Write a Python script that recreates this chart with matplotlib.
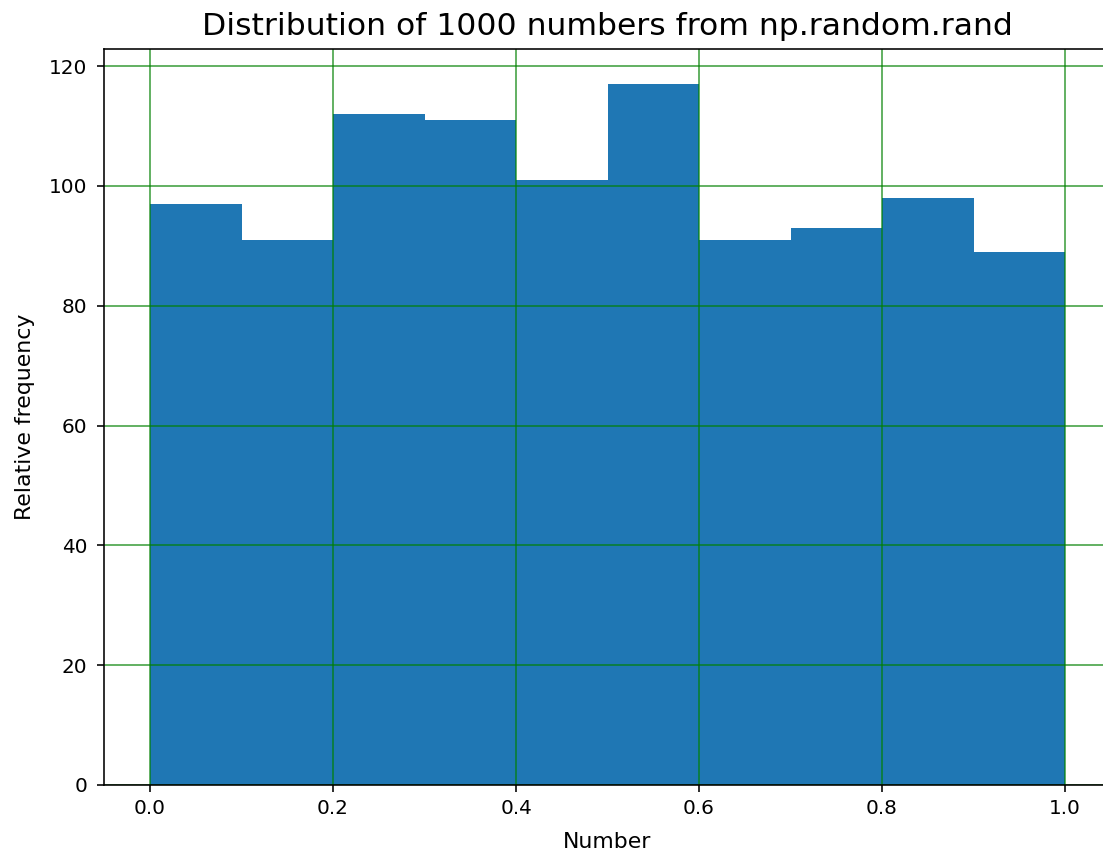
import matplotlib
matplotlib.use('Agg')
import matplotlib.pyplot as plt
import numpy as np

# bin edges and counts (10 bins on [0, 1])
bin_edges = [0.0, 0.1, 0.2, 0.3, 0.4, 0.5, 0.6, 0.7, 0.8, 0.9, 1.0]
counts = [97, 91, 112, 111, 101, 117, 91, 93, 98, 89]

W, H, DPI = 1103, 853, 144
fig = plt.figure(figsize=(W / DPI, H / DPI), dpi=DPI)
# axes deliberately runs past the right edge, as in the cropped original
ax = fig.add_axes([104.25 / W, 1 - 785 / H, (1110.75 - 104.25) / W, (785 - 49) / H])

centers = (np.array(bin_edges[:-1]) + np.array(bin_edges[1:])) / 2
ax.hist(centers, bins=bin_edges, weights=counts, color='#1f77b4')

ax.set_axisbelow(False)
ax.grid(True, color='g', alpha=0.75)
for sp in ax.spines.values():
    sp.set_zorder(3)
ax.set_xticks([0.0, 0.2, 0.4, 0.6, 0.8, 1.0])
ax.set_yticks([0, 20, 40, 60, 80, 100, 120])
ax.tick_params(axis='y', pad=5)

ax.set_title('Distribution of 1000 numbers from np.random.rand',
             fontsize=15.7, pad=7)
ax.set_xlabel('Number', fontsize=11, labelpad=7)
ax.set_ylabel('Relative frequency', fontsize=11, labelpad=7)

fig.savefig('out.png', dpi=DPI)
